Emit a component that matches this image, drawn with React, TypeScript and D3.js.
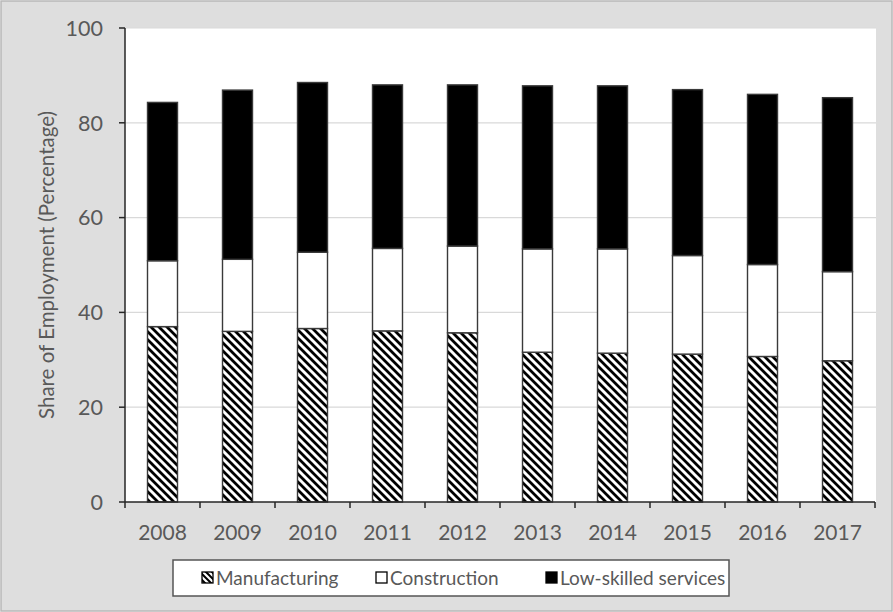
import React from "react";
import * as d3 from "d3";

const years = ["2008", "2009", "2010", "2011", "2012", "2013", "2014", "2015", "2016", "2017"];
const manufacturing = [37.0, 36.0, 36.6, 36.1, 35.7, 31.6, 31.4, 31.2, 30.7, 29.8];
const construction = [13.9, 15.2, 16.1, 17.4, 18.3, 21.8, 22.0, 20.8, 19.4, 18.8];
const services = [33.4, 35.7, 35.8, 34.5, 34.0, 34.4, 34.4, 35.0, 35.9, 36.7];
const seriesNames = ["Manufacturing", "Construction", "Low-skilled services"];
const yTicks = [0, 20, 40, 60, 80, 100];

const W = 893;
const H = 612;
const plot = { left: 125, right: 875, top: 28, bottom: 502 };
const FONT = "Lato, 'Open Sans', sans-serif";
const TXT = "#595959";

export default function App() {
  const x = d3.scaleBand<string>().domain(years).range([plot.left, plot.right]).paddingInner(0.6).paddingOuter(0.3);
  const xb = d3.scaleBand<string>().domain(years).range([plot.left, plot.right]);
  const y = d3.scaleLinear().domain([0, 100]).range([plot.bottom, plot.top]);

  const rows = years.map((yr, i) => ({ year: yr, m: manufacturing[i], c: construction[i], s: services[i] }));
  const stack = d3.stack<any>().keys(["m", "c", "s"])(rows);
  const fills = ["url(#hatch)", "#ffffff", "#000000"];

  const legendItems = [
    { name: seriesNames[0], fill: "url(#hatchL)", sx: 202, tx: 216 },
    { name: seriesNames[1], fill: "#ffffff", sx: 376, tx: 390 },
    { name: seriesNames[2], fill: "#000000", sx: 546, tx: 560 },
  ];

  return (
    <svg width={W} height={H} style={{ position: "absolute", left: 0, top: 0 }}>
      <defs>
        <pattern id="hatch" patternUnits="userSpaceOnUse" width={8} height={8}>
          <rect width={8} height={8} fill="#fff" />
          <path d="M-2,-2 L10,10 M-2,6 L2,10 M6,-2 L10,2" stroke="#000" strokeWidth={2.8} />
        </pattern>
        <pattern id="hatchL" patternUnits="userSpaceOnUse" width={6} height={6}>
          <rect width={6} height={6} fill="#fff" />
          <path d="M-2,-2 L8,8 M-2,4 L2,8 M4,-2 L8,2" stroke="#000" strokeWidth={2} />
        </pattern>
      </defs>
      <rect x={1} y={1} width={W - 2} height={H - 2} fill="#dedede" stroke="#b8b8b8" strokeWidth={1.5} />
      <rect x={plot.left} y={plot.top} width={876 - plot.left} height={plot.bottom - plot.top} fill="#ffffff" />
      {yTicks.filter((t) => t > 0).map((t) => (
        <line key={t} x1={plot.left} x2={876} y1={y(t)} y2={y(t)} stroke="#d9d9d9" strokeWidth={1.2} />
      ))}
      {stack.map((layer, li) =>
        layer.map((d, i) => (
          <rect
            key={li + "-" + i}
            x={x(years[i])!}
            width={x.bandwidth()}
            y={y(d[1])}
            height={y(d[0]) - y(d[1])}
            fill={fills[li]}
            stroke="#3a3a3a"
            strokeWidth={1.4}
          />
        ))
      )}
      {/* y axis */}
      <line x1={plot.left} x2={plot.left} y1={plot.top} y2={plot.bottom} stroke="#262626" strokeWidth={1.5} />
      {yTicks.map((t) => (
        <g key={t}>
          <line x1={plot.left - 6} x2={plot.left} y1={y(t)} y2={y(t)} stroke="#262626" strokeWidth={1.5} />
          <text x={103} y={y(t)} dy="0.36em" textAnchor="end" fontFamily={FONT} fontSize={21.5} fill={TXT}>
            {t}
          </text>
        </g>
      ))}
      {/* x axis */}
      <line x1={plot.left} x2={plot.right} y1={plot.bottom} y2={plot.bottom} stroke="#262626" strokeWidth={1.5} />
      {years.map((yr) => (
        <g key={yr}>
          <line x1={xb(yr)!} x2={xb(yr)!} y1={plot.bottom} y2={plot.bottom + 6} stroke="#262626" strokeWidth={1.5} />
          <text x={xb(yr)! + xb.bandwidth() / 2} y={540} textAnchor="middle" fontFamily={FONT} fontSize={21} fill={TXT}>
            {yr}
          </text>
        </g>
      ))}
      <line x1={plot.right} x2={plot.right} y1={plot.bottom} y2={plot.bottom + 6} stroke="#262626" strokeWidth={1.5} />
      <text
        transform={`translate(54,${(plot.top + plot.bottom) / 2}) rotate(-90)`}
        textAnchor="middle"
        fontFamily={FONT}
        fontSize={20.5}
        fill={TXT}
      >
        Share of Employment (Percentage)
      </text>
      {/* legend */}
      <rect x={173} y={560} width={556} height={36} fill="#ffffff" stroke="#555" strokeWidth={1.5} />
      {legendItems.map((it) => (
        <g key={it.name}>
          <rect x={it.sx} y={572} width={11} height={11} fill={it.fill} stroke="#000" strokeWidth={1.3} />
          <text x={it.tx} y={584.5} fontFamily={FONT} fontSize={19} fill={TXT}>
            {it.name}
          </text>
        </g>
      ))}
    </svg>
  );
}
